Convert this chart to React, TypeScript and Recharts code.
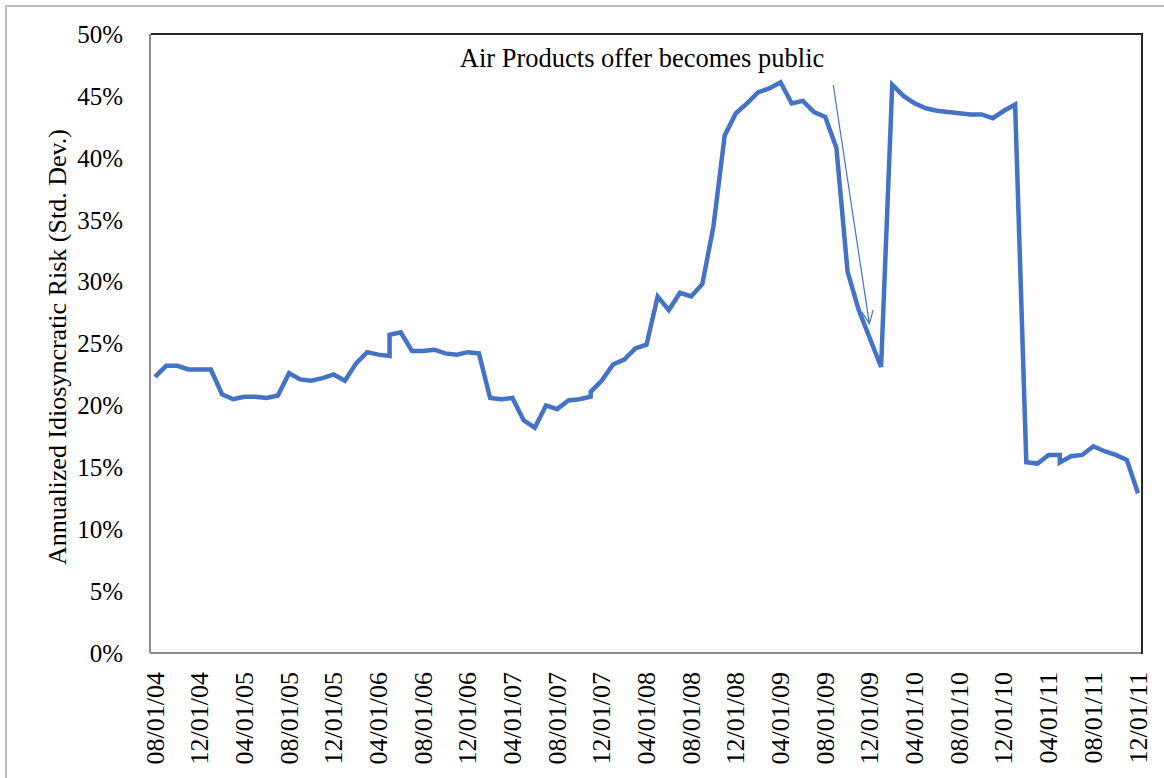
import { LineChart, Line, XAxis, YAxis, ReferenceLine, ReferenceDot } from "recharts";

// month index from 08/01/04; repeated indices are the vertical jumps in the source
const monthIdx = [
  0, 1, 2, 3, 4, 5, 6, 7, 8, 9, 10, 11, 12, 13, 14, 15, 16, 17, 18, 19, 20, 21, 21,
  22, 23, 24, 25, 26, 27, 28, 29, 30, 31, 32, 33, 34, 35, 36, 37, 38, 39, 39, 40,
  41, 42, 43, 44, 45, 46, 47, 48, 49, 50, 51, 52, 53, 54, 55, 56, 57, 58, 59, 60,
  61, 62, 63, 64, 65, 66, 67, 68, 69, 70, 71, 72, 73, 74, 75, 76, 77, 78, 79, 80,
  81, 81, 82, 83, 84, 85, 86, 87, 88,
];

const risk = [
  22.3, 23.2, 23.2, 22.9, 22.9, 22.9, 20.9, 20.5, 20.7, 20.7, 20.6, 20.8, 22.6, 22.1,
  22.0, 22.2, 22.5, 22.0, 23.4, 24.3, 24.1, 24.0, 25.7, 25.9, 24.4, 24.4, 24.5, 24.2,
  24.1, 24.3, 24.2, 20.6, 20.5, 20.6, 18.8, 18.2, 20.0, 19.7, 20.4, 20.5, 20.7, 21.1,
  22.0, 23.3, 23.7, 24.6, 24.9, 28.8, 27.7, 29.1, 28.8, 29.8, 34.5, 41.8, 43.6, 44.4,
  45.3, 45.6, 46.1, 44.4, 44.6, 43.7, 43.3, 40.8, 30.8, 27.7, 25.4, 23.1, 45.9, 45.0,
  44.4, 44.0, 43.8, 43.7, 43.6, 43.5, 43.5, 43.2, 43.8, 44.3, 15.4, 15.3, 16.0, 16.0,
  15.4, 15.9, 16.0, 16.7, 16.3, 16.0, 15.6, 12.9,
];

const tickLabels = [
  "08/01/04", "12/01/04", "04/01/05", "08/01/05", "12/01/05", "04/01/06",
  "08/01/06", "12/01/06", "04/01/07", "08/01/07", "12/01/07", "04/01/08",
  "08/01/08", "12/01/08", "04/01/09", "08/01/09", "12/01/09", "04/01/10",
  "08/01/10", "12/01/10", "04/01/11", "08/01/11", "12/01/11",
];
const xTicks = tickLabels.map((_, i) => i * 4);
const yTicks = [0, 5, 10, 15, 20, 25, 30, 35, 40, 45, 50];

const yTitle = "Annualized Idiosyncratic Risk (Std. Dev.)";
const note = "Air Products offer becomes public";
const noteAt = { m: 43.6, v: 47.3 };
const arrowFrom = { m: 60.72, v: 45.88 };
const arrowTo = { m: 63.95, v: 26.6 };

const data = monthIdx.map((m, i) => ({ m, risk: risk[i] }));

const font = '"Liberation Serif", "Times New Roman", serif';
const blue = "#4472C4";

function XTick({ x, y, payload }: any) {
  const label = tickLabels[Math.round(payload.value / 4)];
  return (
    <text
      x={x}
      y={y + 17}
      transform={`rotate(-90, ${x}, ${y + 17})`}
      textAnchor="end"
      dominantBaseline="central"
      fontSize={26}
      fontFamily={font}
      fill="#000"
    >
      {label}
    </text>
  );
}

function Arrow({ x1, y1, x2, y2 }: any) {
  const ang = Math.atan2(y2 - y1, x2 - x1);
  const len = 14;
  const spread = 0.42;
  const a1 = `${x2 - len * Math.cos(ang - spread)},${y2 - len * Math.sin(ang - spread)}`;
  const a2 = `${x2 - len * Math.cos(ang + spread)},${y2 - len * Math.sin(ang + spread)}`;
  return (
    <g>
      <line x1={x1} y1={y1} x2={x2} y2={y2} stroke={blue} strokeWidth={1.2} />
      <polyline points={`${a1} ${x2},${y2} ${a2}`} fill="none" stroke={blue} strokeWidth={1.2} />
    </g>
  );
}

export default function App() {
  return (
    <div style={{ position: "absolute", left: 0, top: 0, width: 1164, height: 778, background: "#fff", overflow: "hidden" }}>
      <div
        style={{
          position: "absolute",
          left: 5,
          top: 5,
          width: 1200,
          height: 800,
          borderTop: "2px solid #bdbdbd",
          borderLeft: "2px solid #bdbdbd",
        }}
      />
      <div style={{ position: "absolute", left: 0, top: 0 }}>
        <LineChart width={1164} height={778} data={data} margin={{ top: 34, right: 22, bottom: 0, left: 0 }}>
          <XAxis
            dataKey="m"
            type="number"
            domain={[0, 88]}
            ticks={xTicks}
            interval={0}
            padding={{ left: 5, right: 4 }}
            height={125}
            tickLine={false}
            tickSize={0}
            tick={<XTick />}
            axisLine={{ stroke: "#8c8c8c", strokeWidth: 2 }}
          />
          <YAxis
            type="number"
            domain={[0, 50]}
            ticks={yTicks}
            interval={0}
            width={150}
            tickLine={false}
            tickSize={0}
            tickMargin={27}
            tickFormatter={(v) => `${v}%`}
            tick={{ fontSize: 25, fontFamily: font, fill: "#000" }}
            axisLine={{ stroke: "#8c8c8c", strokeWidth: 2 }}
            label={{
              content: () => (
                <text
                  x={57}
                  y={347}
                  transform="rotate(-90, 57, 347)"
                  textAnchor="middle"
                  dominantBaseline="central"
                  fontSize={26}
                  fontFamily={font}
                  fill="#000"
                >
                  {yTitle}
                </text>
              ),
            }}
          />
          <Line
            type="linear"
            dataKey="risk"
            stroke={blue}
            strokeWidth={4.5}
            dot={false}
            isAnimationActive={false}
          />
          <ReferenceLine
            segment={[
              { x: arrowFrom.m, y: arrowFrom.v },
              { x: arrowTo.m, y: arrowTo.v },
            ]}
            ifOverflow="visible"
            shape={<Arrow />}
          />
          <ReferenceDot
            x={noteAt.m}
            y={noteAt.v}
            r={1}
            ifOverflow="visible"
            shape={(p: any) => (
              <text x={p.cx} y={p.cy} textAnchor="middle" fontSize={26.5} fontFamily={font} fill="#000">
                {note}
              </text>
            )}
          />
        </LineChart>
      </div>
      {/* dark top/right edge of the plot frame */}
      <div
        style={{
          position: "absolute",
          left: 151,
          top: 33,
          width: 990,
          height: 619,
          borderTop: "2px solid #262626",
          borderRight: "2px solid #262626",
          pointerEvents: "none",
        }}
      />
    </div>
  );
}
